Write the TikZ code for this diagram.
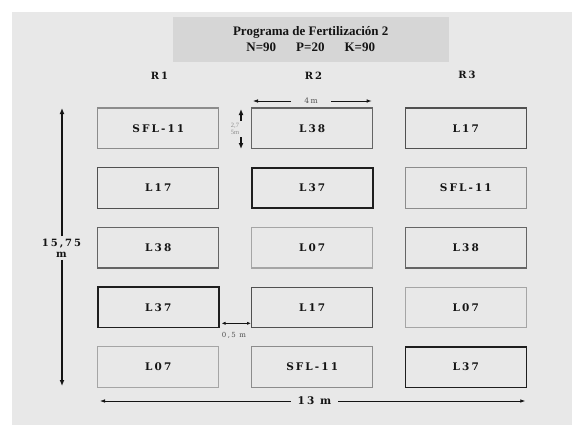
\documentclass[tikz,border=0pt]{standalone}
\usepackage{fontspec}
\setmainfont{Liberation Serif}
\newfontfamily\widefont[LetterSpace=20]{DejaVu Serif}
\usetikzlibrary{arrows.meta}
\definecolor{bgc}{RGB}{232,232,232}
\definecolor{titlec}{RGB}{214,214,214}
\definecolor{cLxxxvii}{RGB}{30,30,30}
\definecolor{cLxvii}{RGB}{80,80,80}
\definecolor{cLxxxviii}{RGB}{100,100,100}
\definecolor{cSFL}{RGB}{140,140,140}
\definecolor{cLvii}{RGB}{165,165,165}
\definecolor{txt}{RGB}{20,20,20}
\tikzset{
  plot/.style={draw, line width=1.2pt, minimum width=121pt, minimum height=40.5pt, inner sep=0pt,
    text=txt, font=\widefont\bfseries\fontsize{10.5}{12}\selectfont},
  vL37/.style={plot, draw=cLxxxvii, line width=1.6pt},
  vL17/.style={plot, draw=cLxvii},
  vL38/.style={plot, draw=cLxxxviii},
  vSFL/.style={plot, draw=cSFL},
  vL07/.style={plot, draw=cLvii},
  rep/.style={text=txt, font=\widefont\bfseries\fontsize{10}{12}\selectfont},
  arr/.style={draw=txt, line width=0.8pt, -{Latex[length=5pt,width=3.6pt]}},
  tarr/.style={draw=txt, line width=1.4pt, -{Latex[length=6pt,width=5pt]}},
  darr/.style={draw=txt, line width=0.8pt, {Latex[length=4pt,width=3.2pt]}-{Latex[length=4pt,width=3.2pt]}},
  dimlab/.style={text=txt, font=\widefont\bfseries\fontsize{10}{11}\selectfont, align=center},
}
\begin{document}
\begin{tikzpicture}[x=1pt,y=-1pt]
\useasboundingbox (0,0) rectangle (572,425);
\fill[white] (0,0) rectangle (572,425);
\fill[bgc] (12,12) rectangle (572,425);
% title
\node[fill=titlec, minimum width=276pt, minimum height=45.4pt, inner sep=0pt, align=center,
  text=txt, font=\bfseries\fontsize{13}{16}\selectfont] (title) at (310.7,39.5)
  {Programa de Fertilización 2\\N=90\hspace*{20pt}P=20\hspace*{20pt}K=90};
% replicate labels
\node[rep] (r1) at (159.5,75.3) {R1};
\node[rep] (r2) at (313.4,75.3) {R2};
\node[rep] (r3) at (467,75.3) {R3};
% plots
\node[vSFL] (a1) at (158.3,128.3) {SFL-11};
\node[vL38] (b1) at (312.2,128.3) {L38};
\node[vL17] (c1) at (465.8,128.3) {L17};
\node[vL17] (a2) at (158.3,188.0) {L17};
\node[vL37] (b2) at (312.2,188.0) {L37};
\node[vSFL] (c2) at (465.8,188.0) {SFL-11};
\node[vL38] (a3) at (158.3,247.7) {L38};
\node[vL07] (b3) at (312.2,247.7) {L07};
\node[vL38] (c3) at (465.8,247.7) {L38};
\node[vL37] (a4) at (158.3,307.4) {L37};
\node[vL17] (b4) at (312.2,307.4) {L17};
\node[vL07] (c4) at (465.8,307.4) {L07};
\node[vL07] (a5) at (158.3,367.1) {L07};
\node[vSFL] (b5) at (312.2,367.1) {SFL-11};
\node[vL37] (c5) at (465.8,367.1) {L37};
% 4m dimension
\node[text=cLxvii, font=\widefont\fontsize{7.5}{9}\selectfont, inner xsep=13pt, inner ysep=0pt] (w4) at (311,101) {4m};
\coordinate (w4l) at (253,101);
\coordinate (w4r) at (371.7,101);
\draw[arr] (w4.west) -- (w4l);
\draw[arr] (w4.east) -- (w4r);
% 2,75 m dimension
\node[text=cSFL, font=\fontsize{6.5}{7}\selectfont, align=center, inner sep=0.5pt] (h275) at (235,129.2) {2,7\\5m};
\coordinate (h1a) at (241,121);
\coordinate (h1b) at (241,109);
\coordinate (h2a) at (241,137);
\coordinate (h2b) at (241,149);
\draw[tarr, line width=1.2pt] (h1a) -- (h1b);
\draw[tarr, line width=1.2pt] (h2a) -- (h2b);
% 0,5 m dimension
\coordinate (g1) at (221.5,323.3);
\coordinate (g2) at (251,323.3);
\draw[darr] (g1) -- (g2);
\node[text=cLxvii, font=\widefont\fontsize{7}{9}\selectfont] (g05) at (234,335) {0,5 m};
% 15,75 m dimension
\node[dimlab, inner xsep=0pt, inner ysep=2.5pt] (v1575) at (61.5,248) {15,75\\m};
\coordinate (vt) at (62,108);
\coordinate (vb) at (62,386);
\draw[tarr] (v1575.north -| vt) -- (vt);
\draw[tarr] (v1575.south -| vt) -- (vb);
% 13 m dimension
\node[text=txt, font=\widefont\bfseries\fontsize{10.5}{12}\selectfont, inner xsep=7pt, inner ysep=0pt] (h13) at (314.5,401) {13 m};
\coordinate (hl) at (100,401);
\coordinate (hr) at (525.3,401);
\draw[arr] (h13.west) -- (hl);
\draw[arr] (h13.east) -- (hr);
\end{tikzpicture}
\end{document}
